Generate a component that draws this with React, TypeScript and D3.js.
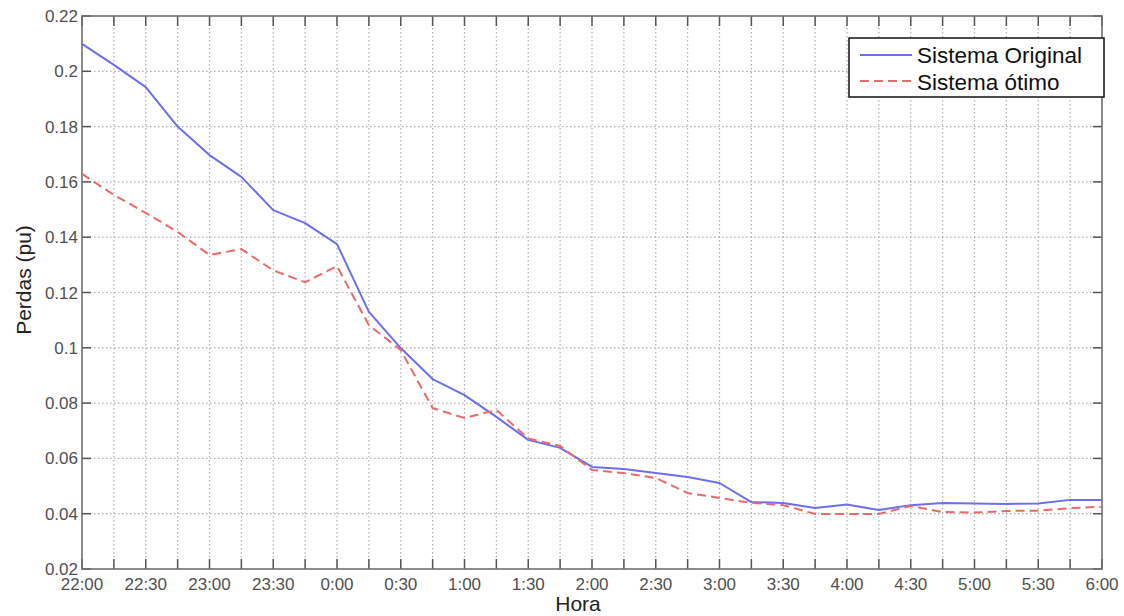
import React from "react";
import * as d3 from "d3";

const timeLabels = ["22:00","22:30","23:00","23:30","0:00","0:30","1:00","1:30","2:00","2:30","3:00","3:30","4:00","4:30","5:00","5:30","6:00"];
const yTicks = [0.02,0.04,0.06,0.08,0.1,0.12,0.14,0.16,0.18,0.2,0.22];
const yTickLabels = ["0.02","0.04","0.06","0.08","0.1","0.12","0.14","0.16","0.18","0.2","0.22"];
// values every 15 minutes from 22:00 to 6:00
const sistemaOriginal = [0.2099,0.2023,0.1943,0.180,0.1697,0.1618,0.1498,0.1451,0.1375,0.113,0.0999,0.0887,0.0829,0.075,0.0667,0.0638,0.0569,0.0562,0.0547,0.0533,0.0511,0.0442,0.0439,0.0421,0.0433,0.0413,0.0431,0.0439,0.0437,0.0435,0.0437,0.045,0.045];
const sistemaOtimo = [0.1629,0.1553,0.1488,0.1419,0.1336,0.1357,0.128,0.1237,0.1295,0.1082,0.0992,0.0782,0.0746,0.0775,0.0672,0.0645,0.0558,0.0547,0.0529,0.0475,0.0457,0.0439,0.0431,0.0399,0.0399,0.0399,0.0428,0.0406,0.0404,0.041,0.0411,0.042,0.0425];
const legendLabels = ["Sistema Original","Sistema ótimo"];

const W = 1124, H = 616;
const L = 82, R = 1102, T = 16, B = 569;
const FONT = "'Liberation Sans', Arial, sans-serif";

export default function App() {
  const x = d3.scaleLinear().domain([0, 32]).range([L, R]);
  const y = d3.scaleLinear().domain([0.02, 0.22]).range([B, T]);
  const idx = d3.range(33);
  const line = d3.line<number>().x((_, i) => x(i)).y((d) => y(d));
  return (
    <svg width={W} height={H} style={{ position: "absolute", left: 0, top: 0, background: "#fff" }} fontFamily={FONT}>
      <rect x={0} y={0} width={W} height={H} fill="#fff" />
      {/* grid */}
      {idx.filter(i => i > 0 && i < 32).map(i => (
        <line key={"gv"+i} x1={x(i)} x2={x(i)} y1={T} y2={B} stroke="#b0b0b0" strokeWidth={1.2} strokeDasharray="1.5,2.5" />
      ))}
      {yTicks.filter((_, i) => i > 0 && i < yTicks.length - 1).map(v => (
        <line key={"gh"+v} x1={L} x2={R} y1={y(v)} y2={y(v)} stroke="#b0b0b0" strokeWidth={1.2} strokeDasharray="1.5,2.5" />
      ))}
      {/* ticks */}
      {idx.map(i => (
        <g key={"tx"+i}>
          <line x1={x(i)} x2={x(i)} y1={B} y2={B - 10} stroke="#555" strokeWidth={1.5} />
          <line x1={x(i)} x2={x(i)} y1={T} y2={T + 10} stroke="#555" strokeWidth={1.5} />
        </g>
      ))}
      {yTicks.map(v => (
        <g key={"ty"+v}>
          <line x1={L} x2={L + 9} y1={y(v)} y2={y(v)} stroke="#555" strokeWidth={1.5} />
          <line x1={R} x2={R - 9} y1={y(v)} y2={y(v)} stroke="#555" strokeWidth={1.5} />
        </g>
      ))}
      {/* frame */}
      <rect x={L} y={T} width={R - L} height={B - T} fill="none" stroke="#707070" strokeWidth={1.6} />
      {/* lines */}
      <path d={line(sistemaOriginal) || ""} fill="none" stroke="#6e6eea" strokeWidth={2} strokeLinejoin="round" />
      <path d={line(sistemaOtimo) || ""} fill="none" stroke="#ea6a6a" strokeWidth={2} strokeDasharray="9,5" />
      {/* tick labels */}
      {timeLabels.map((t, i) => (
        <text key={"lx"+i} x={x(i * 2)} y={590} textAnchor="middle" fontSize={17} fill="#505050">{t}</text>
      ))}
      {yTicks.map((v, i) => (
        <text key={"ly"+i} x={78} y={y(v) + 6} textAnchor="end" fontSize={17} fill="#505050">{yTickLabels[i]}</text>
      ))}
      {/* axis titles */}
      <text x={578} y={611} textAnchor="middle" fontSize={21} fill="#222">Hora</text>
      <text transform={`translate(31,280) rotate(-90)`} textAnchor="middle" fontSize={21} fill="#222">Perdas (pu)</text>
      {/* legend */}
      <rect x={849} y={38} width={255} height={59} fill="#fff" stroke="#111" strokeWidth={1.5} />
      <line x1={860} x2={912} y1={55} y2={55} stroke="#6e6eea" strokeWidth={2} />
      <text x={917} y={63} fontSize={22.5} fill="#111">{legendLabels[0]}</text>
      <line x1={860} x2={912} y1={81} y2={81} stroke="#ea6a6a" strokeWidth={2} strokeDasharray="9,5" />
      <text x={917} y={90} fontSize={22.5} fill="#111">{legendLabels[1]}</text>
    </svg>
  );
}
